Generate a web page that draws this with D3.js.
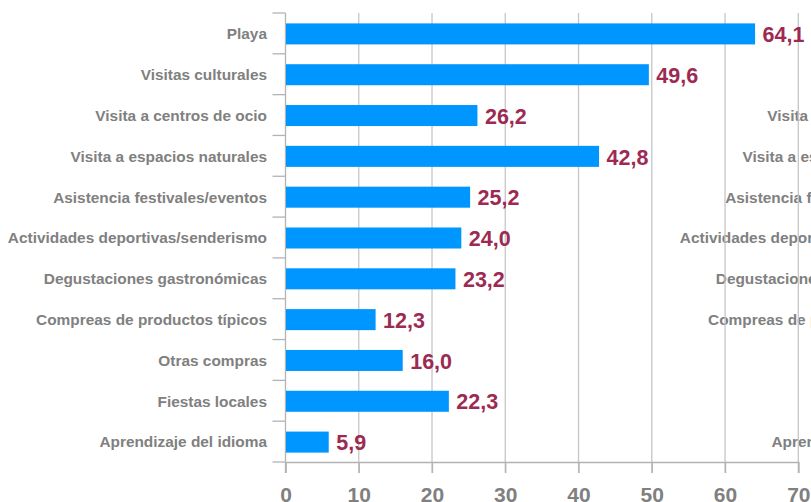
<!DOCTYPE html>
<html>
<head>
<meta charset="utf-8">
<script src="https://cdn.jsdelivr.net/npm/d3@7"></script>
<style>
  html, body { margin: 0; padding: 0; background: #fff; overflow: hidden; }
  svg { display: block; }
  text { font-family: "Liberation Sans", Arial, sans-serif; font-weight: bold; }
</style>
</head>
<body>
<svg id="chart" width="811" height="502"></svg>
<script>
// Activities during the trip (%)
const categories = [
  "Playa",
  "Visitas culturales",
  "Visita a centros de ocio",
  "Visita a espacios naturales",
  "Asistencia festivales/eventos",
  "Actividades deportivas/senderismo",
  "Degustaciones gastronómicas",
  "Compreas de productos típicos",
  "Otras compras",
  "Fiestas locales",
  "Aprendizaje del idioma"
];
const values = [64.1, 49.6, 26.2, 42.8, 25.2, 24.0, 23.2, 12.3, 16.0, 22.3, 5.9];
const xTicks = [0, 10, 20, 30, 40, 50, 60, 70];

const svg = d3.select("#chart");
const plotLeft = 285.5, plotRight = 798.3, plotTop = 13, plotBottom = 462;

const x = d3.scaleLinear().domain([0, 70]).range([plotLeft, plotRight]);
const y = d3.scaleBand().domain(categories).range([plotTop, plotBottom]).paddingInner(0.485).paddingOuter(0.2425);

const fmt = v => d3.format(".1f")(v).replace(".", ",");
const labelColor = "#808080";
const catFont = 15.4;

// Category labels of the neighbouring panel, running off the right edge
svg.append("g")
  .selectAll("text")
  .data(categories)
  .join("text")
  .attr("x", 267 + 672)
  .attr("y", d => y(d) + y.bandwidth() / 2 + 0.5)
  .attr("dy", "0.35em")
  .attr("text-anchor", "end")
  .attr("font-size", catFont)
  .attr("fill", labelColor)
  .text(d => d);

// Vertical gridlines
svg.append("g")
  .selectAll("line")
  .data(xTicks.slice(1))
  .join("line")
  .attr("x1", d => x(d)).attr("x2", d => x(d))
  .attr("y1", plotTop).attr("y2", plotBottom + 11)
  .attr("stroke", "#c6c6c6")
  .attr("stroke-width", 1.3);

// Bottom axis
const xAxis = svg.append("g")
  .attr("transform", `translate(0,${plotBottom})`)
  .call(d3.axisBottom(x).tickValues(xTicks).tickSize(11).tickPadding(14).tickFormat(d3.format("d")));
xAxis.select(".domain").attr("stroke", "#b3b3b3").attr("stroke-width", 1.3);
xAxis.selectAll(".tick line").attr("stroke", "#b3b3b3").attr("stroke-width", 1.3);
xAxis.selectAll(".tick text")
  .attr("font-size", 21)
  .attr("font-family", "Liberation Sans, Arial, sans-serif")
  .attr("font-weight", "bold")
  .attr("fill", labelColor);

// Left category axis with ticks on band boundaries
const boundaries = categories.map(c => y(c) - y.step() * y.paddingInner() / 2).concat([plotBottom]);
svg.append("line")
  .attr("x1", plotLeft).attr("x2", plotLeft)
  .attr("y1", plotTop).attr("y2", plotBottom + 11)
  .attr("stroke", "#b3b3b3").attr("stroke-width", 1.3);
svg.append("g")
  .selectAll("line")
  .data(boundaries)
  .join("line")
  .attr("x1", plotLeft - 13).attr("x2", plotLeft)
  .attr("y1", d => d).attr("y2", d => d)
  .attr("stroke", "#b3b3b3").attr("stroke-width", 1.3);

svg.append("g")
  .selectAll("text")
  .data(categories)
  .join("text")
  .attr("x", 267)
  .attr("y", d => y(d) + y.bandwidth() / 2 + 0.5)
  .attr("dy", "0.35em")
  .attr("text-anchor", "end")
  .attr("font-size", catFont)
  .attr("fill", labelColor)
  .text(d => d);

// Bars
svg.append("g")
  .selectAll("rect")
  .data(values)
  .join("rect")
  .attr("x", x(0) + 0.5)
  .attr("y", (d, i) => y(categories[i]) + 0.5)
  .attr("width", d => x(d) - x(0) - 0.5)
  .attr("height", y.bandwidth())
  .attr("fill", "#0096ff");

// Value labels
svg.append("g")
  .selectAll("text")
  .data(values)
  .join("text")
  .attr("x", d => x(d) + 7.5)
  .attr("y", (d, i) => y(categories[i]) + y.bandwidth() / 2 + 0.5)
  .attr("dy", "0.38em")
  .attr("font-size", 21.5)
  .attr("fill", "#9c2a52")
  .text(d => fmt(d));
</script>
</body>
</html>
